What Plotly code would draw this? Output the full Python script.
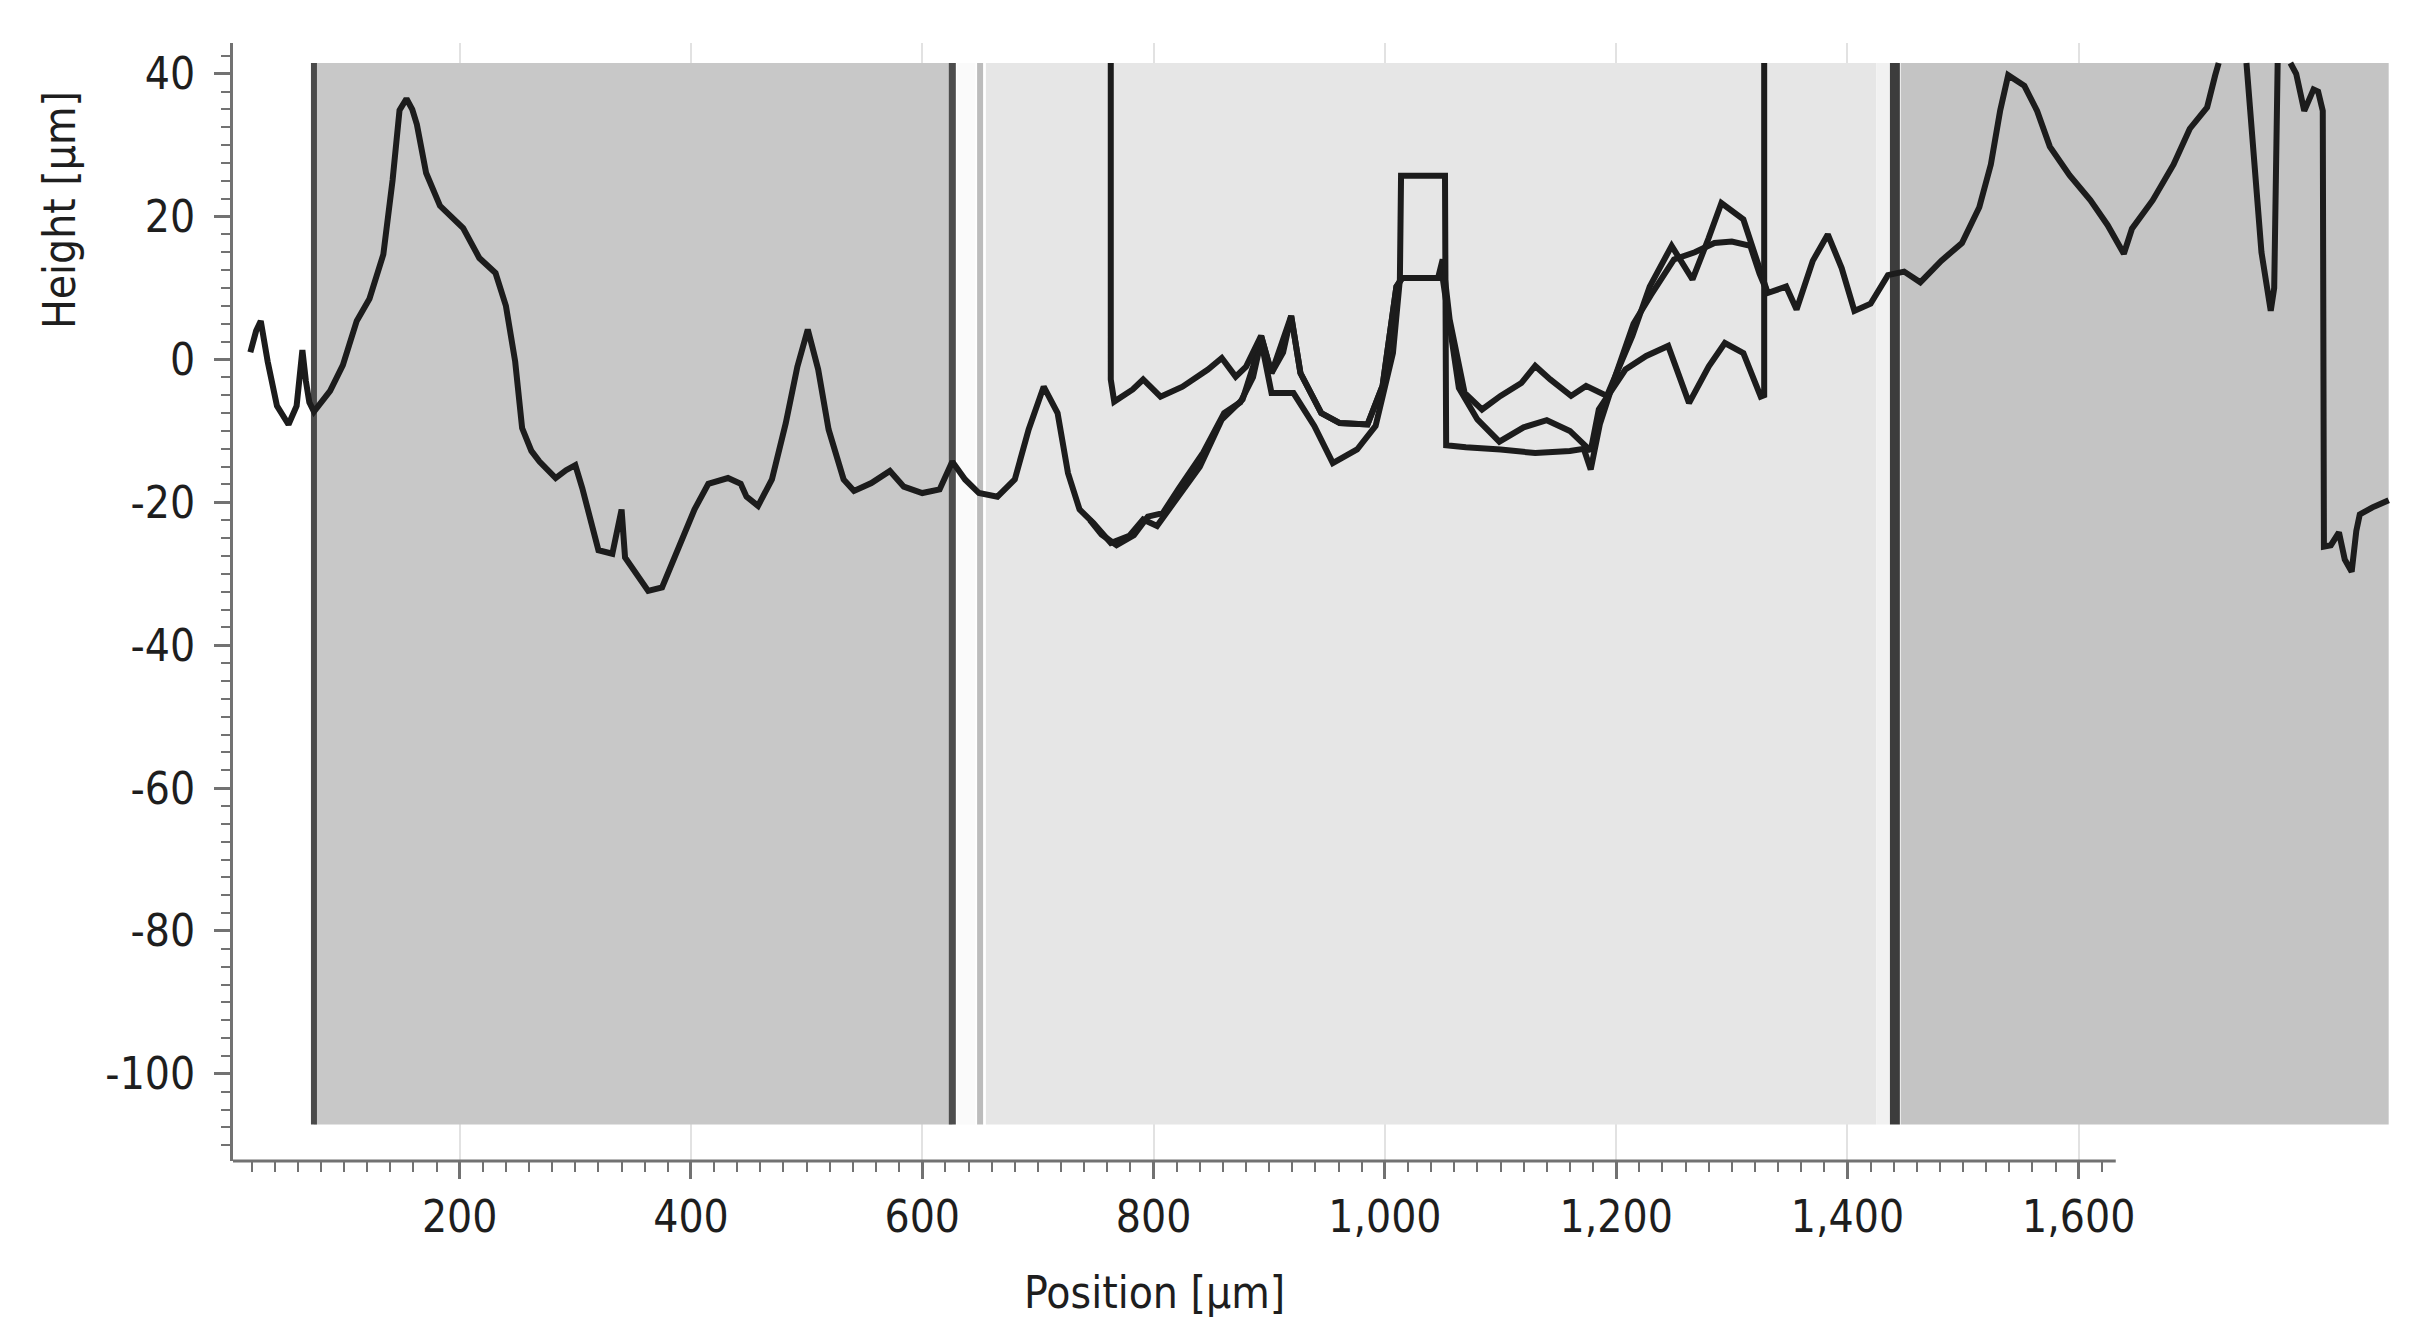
import plotly.graph_objects as go

# profile A: full scan (position in um, height in um); None = out of view
pos_a = [19, 24, 28, 31, 34, 42, 52, 59, 62, 64, 67, 70, 74, 88, 99, 111, 122, 134, 142, 148,
         154, 159, 163, 171, 183, 203, 217, 231, 240, 248, 254, 262, 269, 283, 292, 300, 306, 312, 320, 332,
         338, 340, 343, 352, 363, 375, 389, 403, 415, 432, 443, 448, 458, 470, 482, 492, 501, 510, 519, 532,
         541, 556, 572, 584, 600, 615, 626, 637, 649, 665, 680, 692, 705, 717, 726, 736, 748, 763, 779, 791,
         803, 819, 840, 859, 877, 886, 893, 902, 912, 919, 927, 945, 961, 985, 998, 1010, 1015, 1046, 1050, 1056,
         1069, 1084, 1100, 1118, 1130, 1143, 1161, 1174, 1192, 1214, 1229, 1248, 1266, 1280, 1291, 1310, 1322, 1331, 1347, 1356,
         1370, 1383, 1395, 1406, 1420, 1435, 1449, 1463, 1481, 1499, 1514, 1524, 1532, 1539, 1553, 1564, 1575, 1592, 1610, 1625,
         1639, 1646, 1664, 1682, 1696, 1711, 1718, 1721, None, 1745, 1758, 1766, 1769, 1772, None, 1783, 1788, 1795, 1803, 1807,
         1811, 1812, 1818, 1825, 1830, 1836, 1840, 1843, 1854, 1868]
height_a = [1.0, 4.0, 5.4, 2.0, -0.3, -6.5, -9.1, -6.5, -1.0, 1.3, -3.0, -6.0, -7.3, -4.4, -0.8, 5.4, 8.5, 14.7, 25.1, 34.9,
            36.5, 35.0, 32.9, 26.1, 21.5, 18.4, 14.2, 12.1, 7.5, -0.3, -9.6, -12.8, -14.3, -16.6, -15.5, -14.8, -18.0, -22.0, -26.7, -27.2,
            -23.0, -21.0, -27.7, -29.8, -32.4, -31.9, -26.7, -21.0, -17.4, -16.6, -17.4, -19.2, -20.5, -16.8, -8.9, -1.0, 4.2, -1.4, -9.8, -16.8,
            -18.4, -17.3, -15.6, -17.8, -18.7, -18.2, -14.3, -16.8, -18.7, -19.2, -16.8, -9.8, -3.8, -7.5, -15.9, -21.0, -22.9, -25.7, -24.7, -22.4,
            -23.3, -19.6, -15.0, -8.4, -5.6, -1.0, 3.3, -1.9, 1.0, 6.1, -1.9, -7.5, -8.9, -9.1, -3.7, 10.2, 11.4, 11.4, 14.0, 5.6,
            -4.7, -7.0, -5.1, -3.3, -0.9, -2.8, -5.1, -3.7, -5.1, 3.3, 10.2, 15.9, 11.2, 17.0, 21.9, 19.6, 14.0, 9.3, 10.2, 7.0,
            13.8, 17.5, 12.8, 6.8, 7.8, 11.8, 12.3, 10.8, 13.8, 16.3, 21.3, 27.3, 34.8, 39.8, 38.3, 34.8, 29.8, 25.8, 22.3, 18.8,
            14.8, 18.3, 22.3, 27.3, 32.3, 35.3, 39.8, 41.5, None, 41.5, 15.0, 6.8, 10.0, 41.5, None, 41.5, 40.0, 34.8, 37.8, 37.5,
            34.8, -26.2, -26.0, -24.2, -28.0, -29.7, -24.0, -21.7, -20.7, -19.7]

# profile B
pos_b = [745, 755, 768, 783, 795, 808, 822, 843, 861, 875, 886, 893, 902, 921, 939, 955, 976, 992, 1007, 1013,
         1014, 1052, 1053, 1070, 1100, 1130, 1160, 1172, 1178, 1186, 1200, 1215, 1230, 1250, 1268, 1285, 1300, 1316, 1324, 1331]
height_b = [-22.5, -24.5, -26.0, -24.6, -22.0, -21.5, -18.0, -13.0, -7.5, -6.0, -2.5, 2.6, -4.7, -4.7, -9.3, -14.5, -12.6, -9.3, 0.9, 11.2,
            25.7, 25.7, -12.0, -12.3, -12.6, -13.1, -12.8, -12.5, -15.4, -9.0, -2.0, 5.0, 9.0, 14.0, 15.0, 16.3, 16.5, 15.9, 12.0, 9.3]

# profile C (enters and leaves through the top of the view)
pos_c = [763, 763, 766, 782, 791, 806, 825, 847, 859, 871, 880, 893, 902, 919, 927, 945, 961, 985, 998, 1010,
         1015, 1050, 1064, 1080, 1099, 1120, 1140, 1160, 1178, 1185, 1208, 1226, 1245, 1263, 1280, 1294, 1310, 1325, 1328, 1328]
height_c = [41.5, -2.8, -5.9, -4.2, -2.8, -5.2, -3.8, -1.4, 0.2, -2.4, -1.0, 3.3, -1.9, 6.1, -1.9, -7.5, -8.9, -9.1, -3.7, 10.2,
            11.4, 11.4, -4.0, -8.4, -11.5, -9.5, -8.5, -10.0, -12.8, -7.0, -1.4, 0.5, 1.9, -6.1, -1.0, 2.3, 0.9, -5.2, -5.0, 41.5]

# micrograph strips behind the profile: start, end (um) and grey level
strip_start = [74, 630, 655, 1425, 1446]
strip_end = [626, 646, 1425, 1436, 1868]
strip_grey = ["#c8c8c8", "#fafafa", "#e6e6e6", "#f1f1f1", "#c4c4c4"]
image_bottom, image_top = -107.1, 41.5

# dark sample edges visible in the micrograph
edge_pos = [74, 626, 650, 1441]
edge_grey = ["#4a4a4a", "#4d4d4d", "#bcbcbc", "#3c3c3c"]
edge_width = [6, 7, 6, 10]

x_major = [200, 400, 600, 800, 1000, 1200, 1400, 1600]
x_minor = list(range(20, 1621, 20))
y_major = [40, 20, 0, -20, -40, -60, -80, -100]
x_axis_end = 1632

FONT = "DejaVu Sans Condensed, Liberation Sans, sans-serif"
INK = "#1e1e1e"
AXIS = "#727272"

fig = go.Figure()

for name, xs, ys in [("A", pos_a, height_a), ("B", pos_b, height_b), ("C", pos_c, height_c)]:
    fig.add_trace(go.Scatter(
        x=xs, y=ys, mode="lines", name=name,
        line=dict(color="#1c1c1c", width=6),
        connectgaps=False, showlegend=False,
    ))

shapes = []
for x0, x1, grey in zip(strip_start, strip_end, strip_grey):
    shapes.append(dict(type="rect", xref="x", yref="y", x0=x0, x1=x1, y0=image_bottom, y1=image_top,
                       fillcolor=grey, line_width=0, layer="between"))
for xe, grey, w in zip(edge_pos, edge_grey, edge_width):
    shapes.append(dict(type="line", xref="x", yref="y", x0=xe, x1=xe, y0=image_bottom, y1=image_top,
                       line=dict(color=grey, width=w), layer="between"))
# x axis line stops short of the image edge
shapes.append(dict(type="line", xref="x", yref="paper", x0=4, x1=x_axis_end, y0=0, y1=0,
                   line=dict(color=AXIS, width=3), layer="above"))

fig.update_layout(
    width=2431, height=1336,
    paper_bgcolor="white", plot_bgcolor="white",
    margin=dict(l=225, r=48, t=35, b=183),
    font=dict(family=FONT, size=44, color=INK),
    shapes=shapes,
    xaxis=dict(
        range=[4, 1870], showline=False, zeroline=False,
        tickmode="array", tickvals=x_major, ticktext=[f"{v:,}" for v in x_major],
        ticks="outside", ticklen=17, tickwidth=3, tickcolor=AXIS,
        showgrid=True, gridcolor="#e2e2e2", gridwidth=2,
        minor=dict(tickmode="array", tickvals=x_minor, ticks="outside", ticklen=10,
                   tickwidth=2, tickcolor=AXIS, showgrid=False),
    ),
    yaxis=dict(
        range=[-112.2, 44.3], showline=True, linecolor=AXIS, linewidth=3, zeroline=False,
        tickmode="array", tickvals=y_major, ticktext=[str(v) for v in y_major],
        ticks="outside", ticklen=16, tickwidth=3, tickcolor=AXIS, ticklabelstandoff=10,
        showgrid=False,
        minor=dict(dtick=2.5, tick0=0, ticks="outside", ticklen=9, tickwidth=2,
                   tickcolor=AXIS, showgrid=False),
    ),
    annotations=[
        dict(text="Position [µm]", xref="x", yref="paper", x=801, y=-0.1172,
             xanchor="center", yanchor="middle", showarrow=False, font=dict(size=44)),
        dict(text="Height [µm]", xref="paper", yref="paper", x=-0.0806, y=0.8506,
             xanchor="center", yanchor="middle", textangle=-90, showarrow=False, font=dict(size=44)),
    ],
)

fig.write_html("out.html")
